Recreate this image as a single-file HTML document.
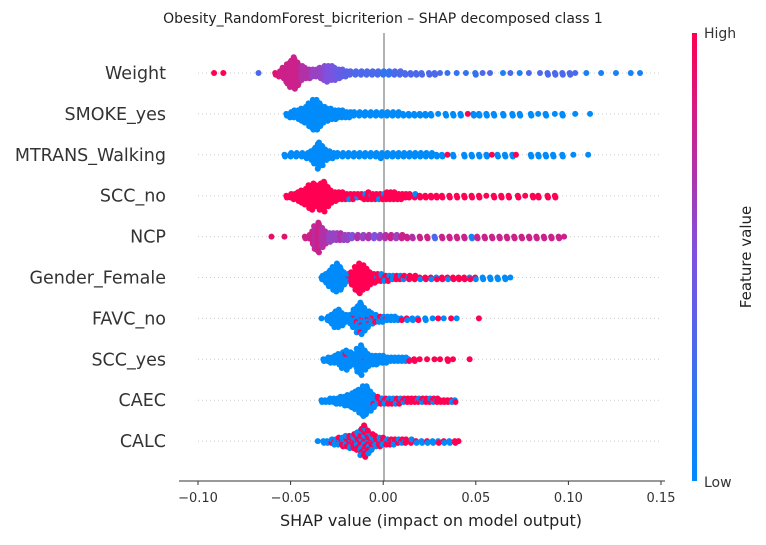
<!DOCTYPE html>
<html><head><meta charset="utf-8"><style>
body{margin:0;background:#fff;font-family:"Liberation Sans",sans-serif}
svg text{font-family:"DejaVu Sans","Liberation Sans",sans-serif}
</style></head><body>
<svg id="c" width="766" height="540" viewBox="0 0 766 540">
<defs><linearGradient id="cg" x1="0" y1="1" x2="0" y2="0">
<stop offset="0" stop-color="#008bfb"/><stop offset="0.5" stop-color="#7e52e0"/><stop offset="1" stop-color="#ff0052"/></linearGradient></defs>
<text x="383" y="23" font-size="14" text-anchor="middle" fill="#222">Obesity_RandomForest_bicriterion – SHAP decomposed class 1</text>
<g id="grid"></g>
<line x1="384" y1="33" x2="384" y2="481" stroke="#999" stroke-width="1.5"/>
<g id="dots"></g>
<line x1="179" y1="481" x2="665" y2="481" stroke="#333" stroke-width="1"/>
<g id="xt"></g>
<text x="431" y="526" font-size="16" text-anchor="middle" fill="#222">SHAP value (impact on model output)</text>
<g id="yl"></g>
<rect x="692" y="33" width="5" height="448" fill="url(#cg)"/>
<text x="704" y="38" font-size="14" fill="#333">High</text>
<text x="704" y="487" font-size="14" fill="#333">Low</text>
<text transform="translate(751,257) rotate(-90)" font-size="15" text-anchor="middle" fill="#222">Feature value</text>
</svg>
<script>
const features=["Weight","SMOKE_yes","MTRANS_Walking","SCC_no","NCP","Gender_Female","FAVC_no","SCC_yes","CAEC","CALC"];
const xTicks=[-0.10,-0.05,0.00,0.05,0.10,0.15];
const xTickLabels=["−0.10","−0.05","0.00","0.05","0.10","0.15"];
// bins: [shap value x1000, count, feature value 0..1]
const weightBins=[[-91,1,1],[-86,1,1],[-67,1,.3],[-58,2,.9],[-56,4,.85],[-54,7,.8],[-52,12,.8],[-50,16,.8],[-48,19,.8],[-46,14,.8],[-44,9,.7],[-42,7,.7],[-40,6,.7],[-38,5,.6],[-36,5,.6],[-34,7,.6],[-32,9,.55],[-30,10,.5],[-28,9,.5],[-26,8,.45],[-24,6,.4],[-22,5,.4],[-20,4,.35],[-18,3,.35],[-15,3,.3],[-12,3,.3],[-9,3,.3],[-6,3,.3],[-3,3,.3],[0,3,.2],[3,3,.2],[6,3,.3],[9,3,.3],[12,2,.3],[15,2,.3],[18,2,.3],[21,2,.3],[25,2,.3],[28,2,.3],[31,1,.3],[35,1,.2],[40,1,.2],[45,1,.2],[50,2,.2],[54,1,.3],[58,1,.3],[65,1,.1],[69,1,.3],[74,1,.1],[79,1,.3],[85,1,.3],[89,2,.3],[93,2,.3],[97,2,.3],[101,2,.3],[104,1,.3],[110,1,.1],[118,1,.1],[126,1,.1],[134,1,.1],[139,1,.1]];
const smokeBins=[[-52,2,0],[-50,4,0],[-48,5,0],[-46,6,0],[-44,8,0],[-42,10,0],[-40,14,0],[-38,18,0],[-36,18,0],[-34,14,0],[-32,10,0],[-30,8,0],[-28,7,0],[-26,6,0],[-24,5,0],[-22,5,0],[-20,4,0],[-18,4,0],[-16,3,0],[-13,3,0],[-10,3,0],[-7,3,0],[-4,3,0],[-1,3,0],[2,3,0],[5,3,0],[8,3,0],[11,2,0],[14,2,0],[17,2,0],[20,2,0],[23,2,0],[26,2,0],[30,1,0],[34,2,0],[38,2,0],[42,2,0],[46,1,1],[49,2,0],[52,2,0],[56,2,0],[60,2,0],[65,2,0],[70,2,0],[74,2,0],[80,2,0],[84,1,0],[88,2,0],[93,1,0],[97,2,0],[104,1,0],[112,1,0]];
const walkBins=[[-53,2,0],[-50,3,0],[-47,3,0],[-44,3,0],[-41,4,0],[-39,6,0],[-37,10,0],[-35,16,0],[-33,12,0],[-31,7,0],[-29,5,0],[-27,4,0],[-25,3,0],[-22,3,0],[-19,3,0],[-16,3,0],[-13,3,0],[-10,3,0],[-7,3,0],[-4,3,0],[-1,4,0],[2,3,0],[5,3,0],[8,3,0],[11,3,0],[14,3,0],[17,3,0],[20,3,0],[23,3,0],[26,3,0],[29,2,0],[32,2,0],[35,1,1],[38,2,0],[44,2,0],[48,2,0],[52,2,0],[56,2,0],[59,1,1],[62,2,0],[66,2,0],[70,2,0],[72,1,1],[80,2,0],[84,2,0],[88,2,0],[92,2,0],[97,2,0],[103,1,0],[111,1,0]];
const sccNoBins=[[-52,2,1],[-50,3,1],[-48,4,1],[-46,6,1],[-44,8,1],[-42,10,1],[-40,14,1],[-38,16,1],[-36,13,1],[-34,16,1],[-32,18,1],[-30,12,1],[-28,8,1],[-26,6,1],[-24,5,1],[-22,5,1],[-20,4,1],[-18,4,.9],[-16,4,1],[-14,3,.8],[-12,3,1],[-10,4,.8],[-8,5,1],[-6,4,.8],[-4,4,1],[-2,4,.8],[0,4,.9],[2,5,1],[4,5,1],[6,5,1],[8,4,1],[10,4,1],[12,3,1],[14,3,1],[17,3,.7],[20,2,1],[23,2,1],[26,2,.6],[29,2,1],[32,2,1],[36,2,1],[40,2,1],[44,2,1],[48,2,1],[52,2,1],[56,1,1],[60,2,1],[64,2,1],[68,2,1],[73,2,1],[77,1,1],[81,2,1],[84,2,1],[89,2,1],[93,2,1]];
const ncpBins=[[-60,1,.9],[-53,1,.9],[-42,2,.8],[-40,3,.8],[-38,8,.8],[-37,14,.75],[-35,18,.8],[-33,12,.7],[-31,8,.7],[-29,6,.6],[-27,5,.6],[-25,5,.6],[-23,5,.7],[-21,4,.6],[-19,4,.6],[-17,3,.5],[-14,3,.7],[-11,3,.6],[-8,3,.7],[-5,3,.5],[-2,3,.6],[1,3,.7],[4,3,.8],[7,3,.6],[10,3,.8],[13,2,.8],[16,2,.7],[20,2,.8],[24,2,.8],[28,2,.3],[32,2,.8],[36,2,.8],[40,2,.8],[44,2,.8],[48,2,.1],[51,2,.8],[55,2,.8],[59,2,.8],[63,2,.8],[67,2,.8],[71,2,.8],[75,2,.8],[79,2,.8],[83,2,.8],[87,2,.8],[91,2,.8],[95,2,.8],[98,1,.8]];
const genderBins=[[-33,3,0],[-31,6,0],[-29,10,0],[-27,14,0],[-25,17,0],[-23,14,0],[-21,8,0],[-19,5,.2],[-17,8,1],[-15,14,1],[-13,18,1],[-11,15,1],[-9,12,1],[-7,8,1],[-5,6,1],[-3,5,.8],[-1,5,.7],[1,4,.7],[3,4,.8],[5,3,.5],[7,3,.7],[9,3,.7],[11,3,.5],[14,3,.7],[17,3,.7],[20,2,.3],[23,2,.8],[26,2,.8],[29,2,.8],[32,2,.8],[35,2,.3],[38,2,.8],[41,2,.8],[44,2,.7],[47,2,.3],[50,2,.3],[54,2,0],[58,2,0],[62,2,0],[66,2,0],[69,1,0]];
const favcBins=[[-33,1,0],[-30,3,0],[-28,6,0],[-26,10,0],[-24,11,0],[-22,8,0],[-20,5,0],[-18,6,0],[-16,11,.1],[-14,16,.1],[-12,19,.15],[-10,14,.1],[-8,10,.3],[-6,7,.3],[-4,5,.5],[-2,4,.5],[0,4,.3],[2,3,.2],[4,3,.1],[6,3,0],[8,2,0],[10,2,.5],[13,2,.3],[16,2,0],[19,2,.3],[23,2,0],[27,1,0],[30,1,1],[33,1,0],[37,1,1],[40,1,0],[52,1,1]];
const sccYesBins=[[-32,2,0],[-30,3,0],[-28,4,0],[-26,5,0],[-24,7,0],[-22,10,0],[-20,12,.1],[-18,9,0],[-16,7,0],[-14,14,0],[-12,18,0],[-10,12,.1],[-8,8,0],[-6,6,0],[-4,6,0],[-2,5,0],[0,5,0],[2,4,0],[4,3,0],[6,3,0],[8,3,0],[10,3,0],[12,3,0],[14,2,.5],[17,2,1],[20,1,1],[24,1,1],[28,1,1],[31,1,1],[35,2,1],[38,1,1],[47,1,1]];
const caecBins=[[-33,2,0],[-31,2,0],[-29,3,0],[-27,3,0],[-25,4,0],[-23,5,0],[-21,6,0],[-19,7,0],[-17,9,0],[-15,11,0],[-13,14,0],[-11,18,0],[-9,17,0],[-7,12,0],[-5,8,.2],[-3,5,.5],[-1,4,.6],[1,4,.6],[3,4,.7],[5,4,.5],[7,4,.7],[9,4,.7],[11,3,.6],[13,3,.7],[15,3,.7],[17,3,.7],[19,3,.6],[21,3,.6],[23,3,.7],[25,3,.7],[27,3,.6],[29,3,.7],[31,2,.7],[33,2,.7],[35,2,.7],[37,2,.7],[39,2,.6]];
const calcBins=[[-35,1,0],[-32,2,0],[-30,2,0],[-28,3,.3],[-26,4,.3],[-24,5,.4],[-22,6,.5],[-20,7,.5],[-18,8,.6],[-16,9,.6],[-14,11,.6],[-12,16,.6],[-10,19,.6],[-8,14,.6],[-6,10,.7],[-4,7,.7],[-2,6,.7],[0,5,.7],[2,4,.7],[4,4,.6],[6,4,.7],[8,3,.7],[10,3,.6],[12,3,.7],[15,3,.5],[18,2,.5],[21,2,.3],[24,2,.7],[27,2,.3],[30,2,.4],[33,2,.5],[36,2,.3],[39,2,.4],[41,1,.3]];
const allBins=[weightBins,smokeBins,walkBins,sccNoBins,ncpBins,genderBins,favcBins,sccYesBins,caecBins,calcBins];
const continuous=[true,false,false,false,true,false,false,false,false,false];

const NS="http://www.w3.org/2000/svg";
const X0=198,X1=661,V0=-0.10,V1=0.15;
const xs=v=>X0+(v-V0)/(V1-V0)*(X1-X0);
const rowY=i=>73+i*40.9;
function lerp(a,b,t){return a.map((x,k)=>Math.round(x+(b[k]-x)*t));}
function cmap(t){const A=[0,139,251],B=[126,82,224],C=[255,0,82];
 const c=t<.5?lerp(A,B,t/.5):lerp(B,C,(t-.5)/.5);return `rgb(${c[0]},${c[1]},${c[2]})`;}
const grid=document.getElementById('grid'),dots=document.getElementById('dots'),yl=document.getElementById('yl'),xt=document.getElementById('xt');
features.forEach((f,i)=>{
 const y=rowY(i);
 const g=document.createElementNS(NS,'line');
 g.setAttribute('x1',X0);g.setAttribute('x2',X1);g.setAttribute('y1',y);g.setAttribute('y2',y);
 g.setAttribute('stroke','#ccc');g.setAttribute('stroke-width','1');g.setAttribute('stroke-dasharray','1,3');
 
 
 grid.appendChild(g);
 const t=document.createElementNS(NS,'text');
 t.setAttribute('x',166);t.setAttribute('y',y+6);t.setAttribute('text-anchor','end');t.setAttribute('font-size','17.5');t.setAttribute('fill','#333');
 t.textContent=f;
 
 
 yl.appendChild(t);
 const grp=document.createElementNS(NS,'g');
 
 
 dots.appendChild(grp);
 allBins[i].forEach((b,bi)=>{
  const x=xs(b[0]/1000),n=b[1],fv=b[2];
  for(let k=0;k<n;k++){
   const off=(k%2?1:-1)*Math.ceil(k/2)*1.75;
   let col;
   if(continuous[i]) col=cmap(fv);
   else{const fr=((k+bi+1)*0.618)%1;col=fr<fv?cmap(1):cmap(0);}
   const c=document.createElementNS(NS,'circle');
   c.setAttribute('cx',x+((k%3)-1)*0.6);c.setAttribute('cy',y+off);c.setAttribute('r','3');c.setAttribute('fill',col);
   
   
   grp.appendChild(c);
  }
 });
});
xTicks.forEach((v,i)=>{
 const x=xs(v);
 const l=document.createElementNS(NS,'line');
 l.setAttribute('x1',x);l.setAttribute('x2',x);l.setAttribute('y1',481);l.setAttribute('y2',485);l.setAttribute('stroke','#333');
 
 
 xt.appendChild(l);
 const t=document.createElementNS(NS,'text');
 t.setAttribute('x',x);t.setAttribute('y',502);t.setAttribute('text-anchor','middle');t.setAttribute('font-size','13');t.setAttribute('fill','#333');
 t.textContent=xTickLabels[i];
 
 
 xt.appendChild(t);
});
</script>
</body></html>
